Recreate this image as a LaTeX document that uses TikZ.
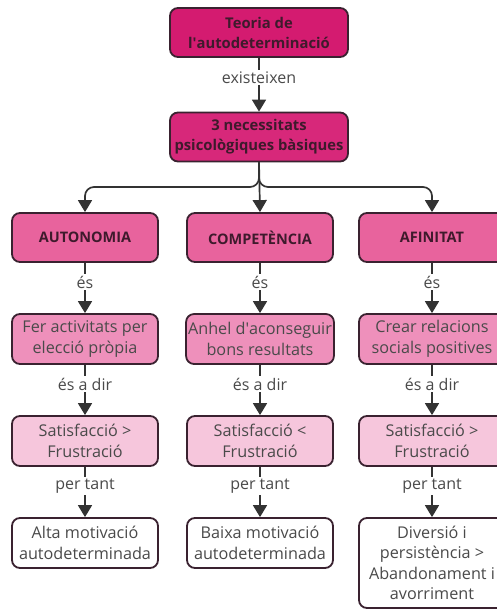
\documentclass[tikz,border=0pt]{standalone}
\usepackage{fontspec}
\setmainfont{Open Sans}
\usetikzlibrary{arrows.meta}
\definecolor{edge}{HTML}{3A2230}
\definecolor{wire}{HTML}{333333}
\definecolor{ink}{HTML}{3E1A2C}
\definecolor{grey}{HTML}{4A4A4A}
\definecolor{lvla}{HTML}{D41B70}
\definecolor{lvlb}{HTML}{D7287A}
\definecolor{lvlc}{HTML}{E8639D}
\definecolor{lvld}{HTML}{EE90BB}
\definecolor{lvle}{HTML}{F6C6DC}
\tikzset{
  box/.style={draw=edge, line width=1.8pt, rounded corners=8pt, align=center,
    inner sep=2pt, font=\fontsize{16.2}{20.5}\selectfont},
  topbox/.style={box, fill=lvla, minimum width=178pt, minimum height=49pt,
    text=ink, font=\fontsize{14.8}{20}\selectfont\bfseries},
  needbox/.style={box, fill=lvlc, minimum width=146pt, minimum height=49pt,
    text=ink, font=\fontsize{14.5}{20}\selectfont\bfseries},
  descbox/.style={box, fill=lvld, minimum width=146pt, minimum height=50pt, text=grey},
  balbox/.style={box, fill=lvle, minimum width=146pt, minimum height=50pt, text=grey},
  outbox/.style={box, fill=white, minimum width=146pt, minimum height=50pt, text=grey},
  link/.style={draw=wire, line width=1.7pt,
    -{Triangle[width=14pt,length=12pt]}},
  lbl/.style={fill=white, inner sep=1.5pt, text=grey,
    font=\fontsize{16}{18}\selectfont},
}
\begin{document}
\begin{tikzpicture}[x=1pt,y=-1pt]
\useasboundingbox[fill=white] (0,0) rectangle (496,610);

% theory and its three needs
\node[topbox] (theory) at (259,32.5) {Teoria de\\l\textquotesingle autodeterminació};
\node[topbox, fill=lvlb] (needs) at (259,137) {3 necessitats\\psicològiques bàsiques};

\node[needbox] (aut) at (85,237.5) {AUTONOMIA};
\node[needbox] (com) at (260,237.5) {COMPETÈNCIA};
\node[needbox] (afi) at (432,237.5) {AFINITAT};

\node[descbox] (autd) at (85,339) {Fer activitats per\\elecció pròpia};
\node[descbox] (comd) at (260,339) {Anhel d\textquotesingle aconseguir\\bons resultats};
\node[descbox] (afid) at (432,339) {Crear relacions\\socials positives};

\node[balbox] (autb) at (85,441) {Satisfacció >\\Frustració};
\node[balbox] (comb) at (260,441) {Satisfacció <\\Frustració};
\node[balbox] (afib) at (432,441) {Satisfacció >\\Frustració};

\node[outbox] (auto) at (85,543) {Alta motivació\\autodeterminada};
\node[outbox] (como) at (260,543) {Baixa motivació\\autodeterminada};
\node[outbox, minimum height=90pt] (afio) at (432,563)
  {Diversió i\\persistència >\\Abandonament i\\avorriment};

% connectors
\draw[link] (theory) -- node[lbl, pos=0.36] {existeixen} (needs);

\coordinate (fork) at (259,187);
\draw[link] (needs.south) -- (com.north);
\draw[link, rounded corners=9pt] (needs.south) |- (fork -| aut) -- (aut.north);
\draw[link, rounded corners=9pt] (needs.south) |- (fork -| afi) -- (afi.north);

\foreach \c in {aut,com,afi}{
  \draw[link] (\c) -- node[lbl, pos=0.38] {és} (\c d);
  \draw[link] (\c d) -- node[lbl, pos=0.38] {és a dir} (\c b);
  \draw[link] (\c b) -- node[lbl, pos=0.38] {per tant} (\c o);
}
\end{tikzpicture}
\end{document}
